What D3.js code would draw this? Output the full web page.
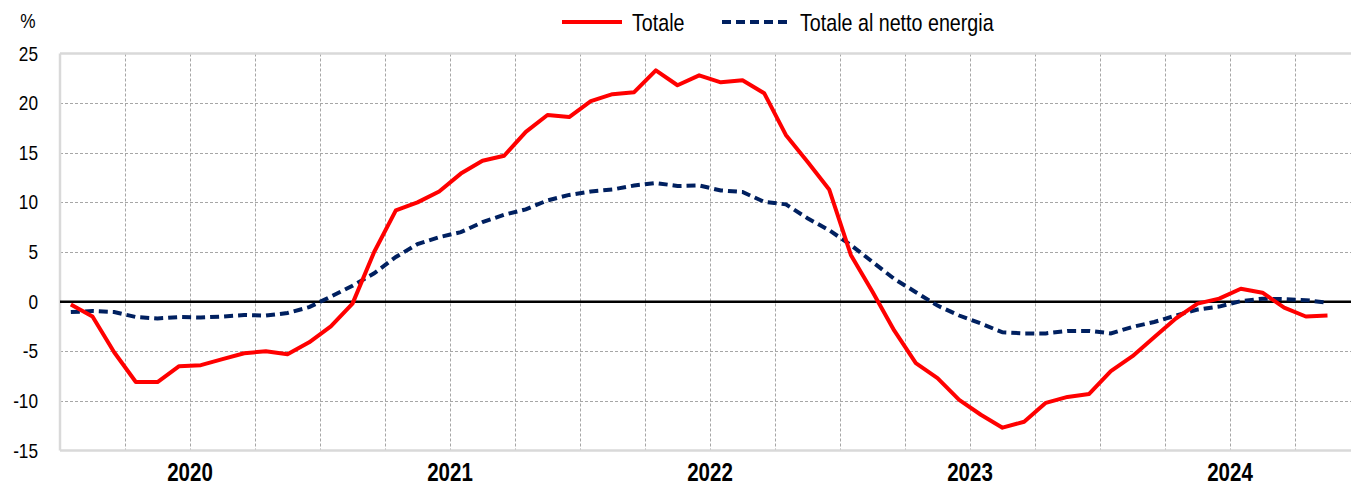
<!DOCTYPE html>
<html lang="it">
<head>
	<meta charset="utf-8">
	<script src="https://d3js.org/d3.v7.min.js"></script>
	<style>
	body { margin: 0; background: #fff; }
	text { font-family: "Liberation Sans", Arial, sans-serif; fill: #000; }
	</style>
</head>
<body>
	<script>
	// Years shown on the axis, monthly observations Jan 2020 - Nov 2024
	var years = ["2020", "2021", "2022", "2023", "2024"];
	var months = [];
	years.forEach(function(y) {
		for (var m = 1; m <= 12; m++) months.push(y + "-" + (m < 10 ? "0" + m : m));
	});

	// Totale (red)
	var totale = [
		-0.3, -1.5, -5.1, -8.1, -8.1, -6.5, -6.4, -5.8, -5.2, -5.0, -5.3, -4.1,
		-2.5, -0.2, 5.0, 9.2, 10.0, 11.1, 12.9, 14.2, 14.7, 17.1, 18.8, 18.6,
		20.2, 20.9, 21.1, 23.3, 21.8, 22.8, 22.1, 22.3, 21.0, 16.8, 14.1, 11.3,
		4.7, 1.0, -2.9, -6.2, -7.7, -9.9, -11.4, -12.7, -12.1, -10.2, -9.6, -9.3,
		-7.0, -5.5, -3.6, -1.7, -0.2, 0.3, 1.3, 0.9, -0.6, -1.5, -1.4
	];
	// Totale al netto energia (dashed navy)
	var nettoEnergia = [
		-1.05, -0.95, -1.05, -1.55, -1.7, -1.55, -1.6, -1.5, -1.35, -1.4, -1.15, -0.55,
		0.5, 1.6, 2.85, 4.5, 5.8, 6.5, 7.0, 8.0, 8.75, 9.3, 10.2, 10.75,
		11.1, 11.3, 11.7, 11.95, 11.65, 11.7, 11.2, 11.05, 10.05, 9.8, 8.4, 7.2,
		5.7, 4.0, 2.3, 0.95, -0.4, -1.4, -2.2, -3.1, -3.2, -3.2, -2.95, -2.95,
		-3.2, -2.55, -2.05, -1.4, -0.8, -0.5, 0.05, 0.3, 0.25, 0.15, -0.1
	];
	var yTicks = [25, 20, 15, 10, 5, 0, -5, -10, -15];

	var w = 1351, h = 486;
	// plot box (note: "top" is reserved on window, so use plot* names)
	var plotLeft = 60, plotRight = 1360, plotTop = 53.5, plotBottom = 450.5;
	var narrow = 0.82; // horizontal squeeze to mimic a narrow face

	var x = d3.scaleBand().domain(months).range([plotLeft, plotRight]).padding(0);
	var y = d3.scaleLinear().domain([-15, 25]).range([plotBottom, plotTop]);
	var cx = function(i) { return x(months[i]) + x.bandwidth() / 2; };

	var svg = d3.select("body").append("svg")
		.attr("width", w).attr("height", h);
	svg.append("rect").attr("width", w).attr("height", h).attr("fill", "#fff");

	// horizontal grid
	svg.selectAll("line.hgrid")
		.data(yTicks.filter(function(t) { return t !== 0 && t !== 25 && t !== -15; }))
		.enter().append("line")
		.attr("x1", plotLeft).attr("x2", w)
		.attr("y1", function(d) { return Math.round(y(d)) + 0.5; })
		.attr("y2", function(d) { return Math.round(y(d)) + 0.5; })
		.attr("stroke", "#a6a6a6").attr("stroke-width", 1)
		.attr("stroke-dasharray", "3,2");

	// vertical grid at quarter boundaries
	var quarters = months.filter(function(m, i) { return i > 0 && i % 3 === 0; });
	svg.selectAll("line.vgrid")
		.data(quarters)
		.enter().append("line")
		.attr("x1", function(d) { return Math.round(x(d)) + 0.5; })
		.attr("x2", function(d) { return Math.round(x(d)) + 0.5; })
		.attr("y1", plotTop).attr("y2", plotBottom)
		.attr("stroke", "#a6a6a6").attr("stroke-width", 1)
		.attr("stroke-dasharray", "3,2");

	// plot border (light grey)
	[[plotLeft, plotTop, w, plotTop], [plotLeft, plotBottom, w, plotBottom], [plotLeft, plotTop, plotLeft, plotBottom]].forEach(function(l) {
		svg.append("line")
			.attr("x1", l[0]).attr("y1", l[1]).attr("x2", l[2]).attr("y2", l[3])
			.attr("stroke", "#d9d9d9").attr("stroke-width", 2.5);
	});

	// zero line
	svg.append("line")
		.attr("x1", plotLeft).attr("x2", w)
		.attr("y1", y(0)).attr("y2", y(0))
		.attr("stroke", "#000").attr("stroke-width", 2.5);

	var line = d3.line()
		.x(function(d, i) { return cx(i); })
		.y(function(d) { return y(d); });

	svg.append("path").datum(nettoEnergia)
		.attr("d", line).attr("fill", "none")
		.attr("stroke", "#002060").attr("stroke-width", 4)
		.attr("stroke-dasharray", "9,5");

	svg.append("path").datum(totale)
		.attr("d", line).attr("fill", "none")
		.attr("stroke", "#ff0000").attr("stroke-width", 4)
		.attr("stroke-linejoin", "round");

	// y tick labels
	svg.selectAll("text.ytick")
		.data(yTicks)
		.enter().append("text")
		.attr("text-anchor", "end")
		.attr("dominant-baseline", "central")
		.style("font-size", "21px")
		.attr("transform", function(d) { return "translate(38," + y(d) + ") scale(" + narrow + ",1)"; })
		.text(function(d) { return d; });

	svg.append("text")
		.attr("text-anchor", "middle")
		.style("font-size", "21px")
		.attr("transform", "translate(28,28) scale(" + narrow + ",1)")
		.text("%");

	// year labels centred on each year
	svg.selectAll("text.year")
		.data(years)
		.enter().append("text")
		.attr("text-anchor", "middle")
		.style("font-size", "25px").style("font-weight", "bold")
		.attr("transform", function(d) {
			var x0 = x(d + "-01"), x1 = x(d + "-12") + x.bandwidth();
			return "translate(" + ((x0 + x1) / 2) + ",481) scale(" + narrow + ",1)";
		})
		.text(function(d) { return d; });

	// legend
	var legend = [
		{ name: "Totale", color: "#ff0000", dash: null, x1: 562, x2: 622, tx: 632 },
		{ name: "Totale al netto energia", color: "#002060", dash: "9,5", x1: 722, x2: 791, tx: 800 }
	];
	legend.forEach(function(l) {
		svg.append("line")
			.attr("x1", l.x1).attr("x2", l.x2)
			.attr("y1", 22).attr("y2", 22)
			.attr("stroke", l.color).attr("stroke-width", 4)
			.attr("stroke-dasharray", l.dash);
		svg.append("text")
			.style("font-size", "24px")
			.attr("transform", "translate(" + l.tx + ",30.5) scale(" + narrow + ",1)")
			.text(l.name);
	});
	</script>
</body>
</html>
